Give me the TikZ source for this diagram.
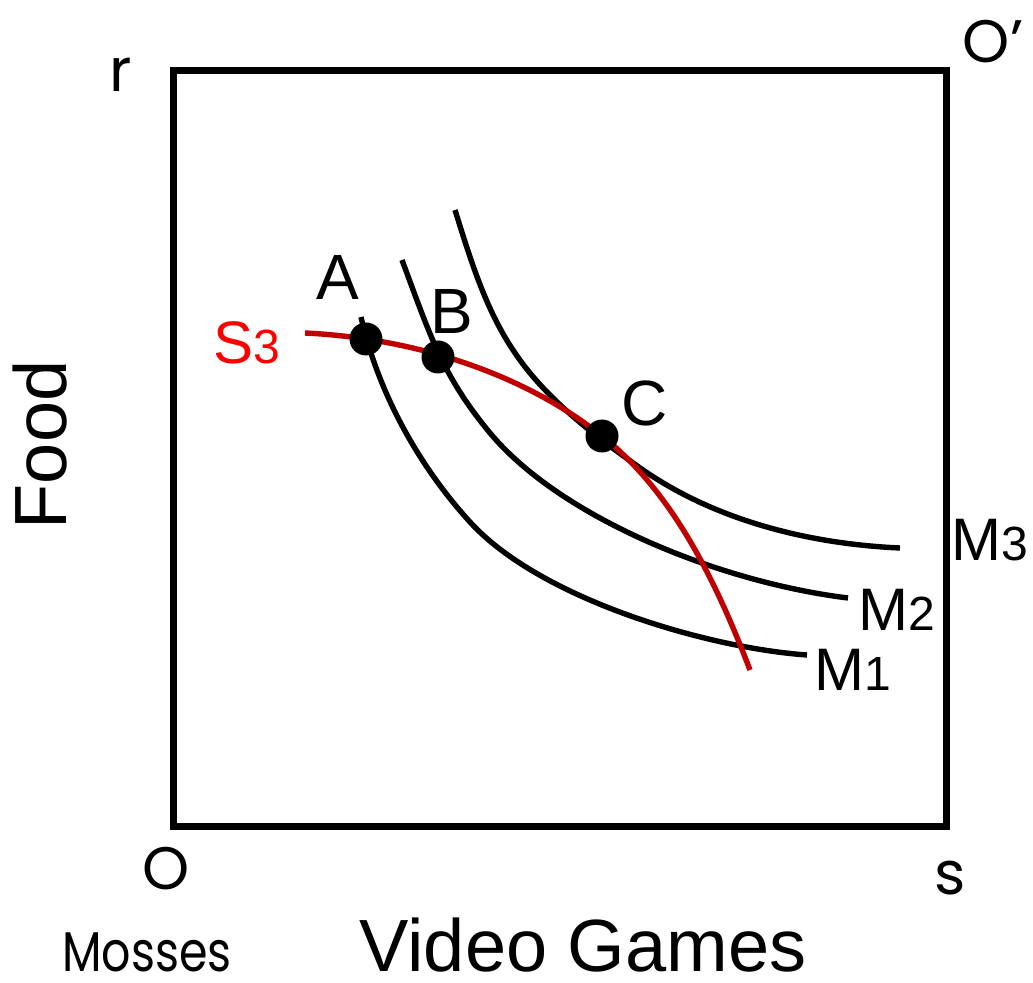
\documentclass[tikz,border=0pt]{standalone}
\usepackage{fontspec}
\setmainfont{Liberation Sans}
\newfontfamily\geofont{Poppins}
\newfontfamily\geonarrow[FakeStretch=0.82]{Poppins}
\definecolor{ppfred}{RGB}{192,0,0}
\definecolor{lblred}{RGB}{255,0,0}
\begin{document}
\begin{tikzpicture}[x=0.5pt,y=-0.5pt,
        curve/.style={line width=2.7pt},
        lbl/.style={inner sep=0pt,font=\fontsize{32}{32}\selectfont},
        geo/.style={inner sep=0pt,font=\geofont\fontsize{30}{30}\selectfont},
        dot/.style={circle,fill=black,inner sep=0pt,minimum size=16.5pt}]
            \def\sub#1#2{#1{\fontsize{24}{24}\selectfont#2}}
            \useasboundingbox (0,0) rectangle (1033,983);
            \draw[line width=3.5pt] (173,71) rectangle (946,826);
            % corner and axis labels
            \node[geo] (r) at (121,75) {r};
            \node[geo] (Oprime) at (993,42) {O’};
            \node[geo] (O) at (166,869) {O};
            \node[geo] (s) at (950,878) {s};
            \node[geo,font=\geonarrow\fontsize{28}{28}\selectfont] (mosses) at (147,952) {Mosses};
            \node[lbl,font=\fontsize{37}{37}\selectfont,rotate=90] (food) at (40,445) {Food};
            \node[lbl,font=\fontsize{37}{37}\selectfont] (games) at (583,945) {Video Games};
            % indifference curves
            \draw[curve] (361,317) .. controls (378,392) and (418,465) .. (470,522)
                .. controls (540,599) and (707,648) .. (807,655);
            \draw[curve] (402,260) .. controls (430,335) and (442,375) .. (490,433)
                .. controls (560,517) and (718,582) .. (848,598);
            \draw[curve] (455,210) .. controls (470,258) and (485,308) .. (513,350)
                .. controls (545,399) and (595,436) .. (643,470)
                .. controls (717,521) and (810,544) .. (900,548);
            % contract curve
            \draw[curve,ppfred] (305,333) .. controls (410,338) and (520,371) .. (602,436)
                .. controls (674,493) and (717,584) .. (750,670);
            \node[dot] (ptA) at (366,339) {};
            \node[dot] (ptB) at (438,357) {};
            \node[dot] (ptC) at (602,436) {};
            \node[lbl] (labA) at (338,277) {A};
            \node[lbl] (labB) at (452,311) {B};
            \node[lbl] (labC) at (645,403) {C};
            \node[lbl,font=\fontsize{30}{30}\selectfont,text=lblred] (labS) at (247,343) {\sub{S}{3}};
            \node[lbl,font=\fontsize{30}{30}\selectfont] (labM1) at (853,670) {\sub{M}{1}};
            \node[lbl,font=\fontsize{30}{30}\selectfont] (labM2) at (897,610) {\sub{M}{2}};
            \node[lbl,font=\fontsize{30}{30}\selectfont] (labM3) at (990,540) {\sub{M}{3}};
        \end{tikzpicture}
\end{document}
